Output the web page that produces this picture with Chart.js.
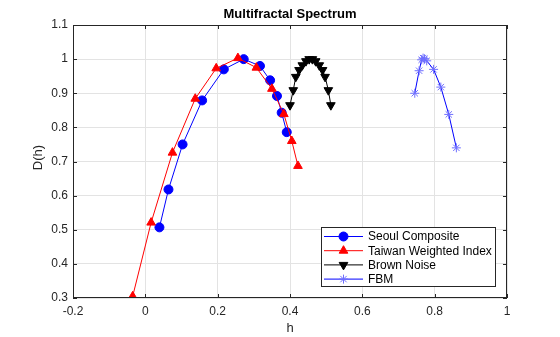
<!DOCTYPE html>
<html>
<head>
<meta charset="utf-8">
<script src="https://cdn.jsdelivr.net/npm/chart.js@4/dist/chart.umd.min.js"></script>
<style>
  html, body { margin: 0; padding: 0; background: #fff; }
  #wrap { width: 560px; height: 337px; }
</style>
</head>
<body>
<div id="wrap"><canvas id="spectrum_chart" width="560" height="337"></canvas></div>
<script>
// values
const seriesNames = ['Seoul Composite', 'Taiwan Weighted Index', 'Brown Noise', 'FBM'];

const seoulH = [0.039, 0.064, 0.103, 0.157, 0.217, 0.272, 0.317, 0.345, 0.364, 0.377, 0.391];
const seoulD = [0.507, 0.618, 0.750, 0.879, 0.970, 1.000, 0.980, 0.938, 0.892, 0.843, 0.786];

const taiwanH = [-0.035, 0.016, 0.075, 0.138, 0.196, 0.256, 0.307, 0.350, 0.383, 0.405, 0.422];
const taiwanD = [0.305, 0.521, 0.726, 0.884, 0.973, 1.003, 0.975, 0.913, 0.839, 0.760, 0.687];

const brownH = [0.400, 0.409, 0.416, 0.425, 0.434, 0.444, 0.453, 0.462, 0.471, 0.481, 0.490, 0.497, 0.506, 0.513];
const brownD = [0.865, 0.909, 0.948, 0.968, 0.982, 0.994, 1.000, 1.000, 0.994, 0.982, 0.968, 0.948, 0.909, 0.865];

const fbmH = [0.745, 0.757, 0.764, 0.768, 0.772, 0.778, 0.797, 0.817, 0.839, 0.860];
const fbmD = [0.900, 0.966, 0.998, 1.003, 1.001, 0.995, 0.970, 0.918, 0.838, 0.740];

const xTicks = [-0.2, 0, 0.2, 0.4, 0.6, 0.8, 1];
const yTicks = [0.3, 0.4, 0.5, 0.6, 0.7, 0.8, 0.9, 1, 1.1];

const FONT = '"Liberation Sans", Arial, Helvetica, sans-serif';

function toPoints(xs, ys) {
    const pts = [];
    for (let i = 0; i < xs.length; i++) {
        pts.push({x: xs[i], y: ys[i]});
    }
    return pts;
}

// MATLAB-like box, inward ticks, title, axis labels and legend
const matlabLook = {
    id: 'matlabLook',
    afterDraw(chart) {
        const ctx = chart.ctx;
        const a = chart.chartArea;
        const xs = chart.scales.x, ys = chart.scales.y;
        ctx.save();
        ctx.strokeStyle = '#262626';
        ctx.lineWidth = 1;
        ctx.strokeRect(a.left + 0.5, a.top + 0.5, a.right - a.left - 1, a.bottom - a.top - 1);
        // inner tick marks
        ctx.beginPath();
        xTicks.forEach(v => {
            const px = Math.round(xs.getPixelForValue(v)) + 0.5;
            ctx.moveTo(px, a.bottom); ctx.lineTo(px, a.bottom - 4);
            ctx.moveTo(px, a.top); ctx.lineTo(px, a.top + 4);
        });
        yTicks.forEach(v => {
            const py = Math.round(ys.getPixelForValue(v)) + 0.5;
            ctx.moveTo(a.left, py); ctx.lineTo(a.left + 4, py);
            ctx.moveTo(a.right, py); ctx.lineTo(a.right - 4, py);
        });
        ctx.stroke();

        // title + axis labels
        ctx.fillStyle = '#000';
        ctx.textAlign = 'center';
        ctx.textBaseline = 'middle';
        ctx.font = 'bold 13px ' + FONT;
        ctx.fillText('Multifractal Spectrum', (a.left + a.right) / 2, 14);
        ctx.font = '13px ' + FONT;
        ctx.fillStyle = '#262626';
        ctx.fillText('h', (a.left + a.right) / 2, 328);
        ctx.save();
        ctx.translate(38, (a.top + a.bottom) / 2 - 4);
        ctx.rotate(-Math.PI / 2);
        ctx.fillText('D(h)', 0, 0);
        ctx.restore();

        // legend
        const lx = 321.5, ly = 227.5, lw = 174, lh = 59;
        ctx.fillStyle = '#fff';
        ctx.fillRect(lx, ly, lw, lh);
        ctx.strokeStyle = '#262626';
        ctx.strokeRect(lx, ly, lw, lh);
        ctx.font = '12px ' + FONT;
        ctx.textAlign = 'left';
        chart.data.datasets.forEach((ds, i) => {
            const cy = 236.5 + i * 14.2;
            ctx.strokeStyle = ds.borderColor;
            ctx.lineWidth = 1;
            ctx.beginPath();
            ctx.moveTo(324, cy); ctx.lineTo(363, cy);
            ctx.stroke();
            Chart.helpers.drawPoint(ctx, {
                pointStyle: ds.pointStyle,
                radius: ds.pointRadius,
                rotation: ds.pointRotation || 0,
                borderWidth: 1
            }, 343.5, cy);
            ctx.fillStyle = ds.pointBackgroundColor;
            ctx.strokeStyle = ds.pointBorderColor;
            ctx.beginPath();
            ctx.fillStyle = '#000';
            ctx.fillText(ds.label, 368, cy + 0.5);
        });
        ctx.restore();
    },
    beforeDatasetsDraw(chart) {}
};

// drawPoint uses ctx fill/stroke styles, so set them before each legend marker
const origDrawPoint = Chart.helpers.drawPoint;

const datasets = [
    {
        label: seriesNames[0], data: toPoints(seoulH, seoulD),
        borderColor: '#0000ff', backgroundColor: '#0000ff',
        pointBackgroundColor: '#0000ff', pointBorderColor: '#0000ff',
        pointStyle: 'circle', pointRadius: 4.5, order: 4
    },
    {
        label: seriesNames[1], data: toPoints(taiwanH, taiwanD),
        borderColor: '#ff0000', backgroundColor: '#ff0000',
        pointBackgroundColor: '#ff0000', pointBorderColor: '#ff0000',
        pointStyle: 'triangle', pointRadius: 5, order: 3
    },
    {
        label: seriesNames[2], data: toPoints(brownH, brownD),
        borderColor: '#000000', backgroundColor: '#000000',
        pointBackgroundColor: '#000000', pointBorderColor: '#000000',
        pointStyle: 'triangle', pointRotation: 180, pointRadius: 5, order: 2
    },
    {
        label: seriesNames[3], data: toPoints(fbmH, fbmD),
        borderColor: '#0000ff', backgroundColor: '#6f6fff',
        pointBackgroundColor: '#6f6fff', pointBorderColor: '#6f6fff',
        pointStyle: 'star', pointRadius: 4.5, order: 1
    }
];
datasets.forEach(ds => {
    ds.borderWidth = 1;
    ds.pointBorderWidth = 1;
    ds.showLine = true;
    ds.tension = 0;
});

const config = {
    type: 'scatter',
    data: {datasets: datasets},
    options: {
        responsive: false,
        animation: false,
        layout: {padding: {top: 25, right: 53, left: 0, bottom: 0}},
        scales: {
            x: {
                type: 'linear', min: -0.2, max: 1,
                afterBuildTicks: s => { s.ticks = xTicks.map(v => ({value: v})); },
                afterFit: s => { s.height = 39; },
                ticks: {
                    color: '#262626', padding: 6,
                    font: {family: FONT, size: 12},
                    maxRotation: 0,
                    callback: v => String(v)
                },
                grid: {color: '#e3e3e3', drawTicks: false},
                border: {display: false}
            },
            y: {
                type: 'linear', min: 0.3, max: 1.1,
                afterBuildTicks: s => { s.ticks = yTicks.map(v => ({value: v})); },
                afterFit: s => { s.width = 73; },
                ticks: {
                    color: '#262626', padding: 5,
                    font: {family: FONT, size: 12},
                    callback: v => String(v)
                },
                grid: {color: '#e3e3e3', drawTicks: false},
                border: {display: false}
            }
        },
        plugins: {
            legend: {display: false},
            tooltip: {enabled: false},
            title: {display: false}
        }
    },
    plugins: [matlabLook]
};

// wrap drawPoint in legend so colours come from the dataset
matlabLook.afterDraw = (function (draw) {
    return function (chart) {
        const ctx = chart.ctx;
        let idx = 0;
        Chart.helpers.drawPoint = function (c, opts, x, y) {
            const ds = chart.data.datasets[idx++];
            c.save();
            c.fillStyle = ds.pointBackgroundColor;
            c.strokeStyle = ds.pointBorderColor;
            origDrawPoint(c, opts, x, y);
            c.restore();
        };
        draw(chart);
        Chart.helpers.drawPoint = origDrawPoint;
    };
})(matlabLook.afterDraw);

const myChart = new Chart(document.getElementById('spectrum_chart'), config);
</script>
</body>
</html>
